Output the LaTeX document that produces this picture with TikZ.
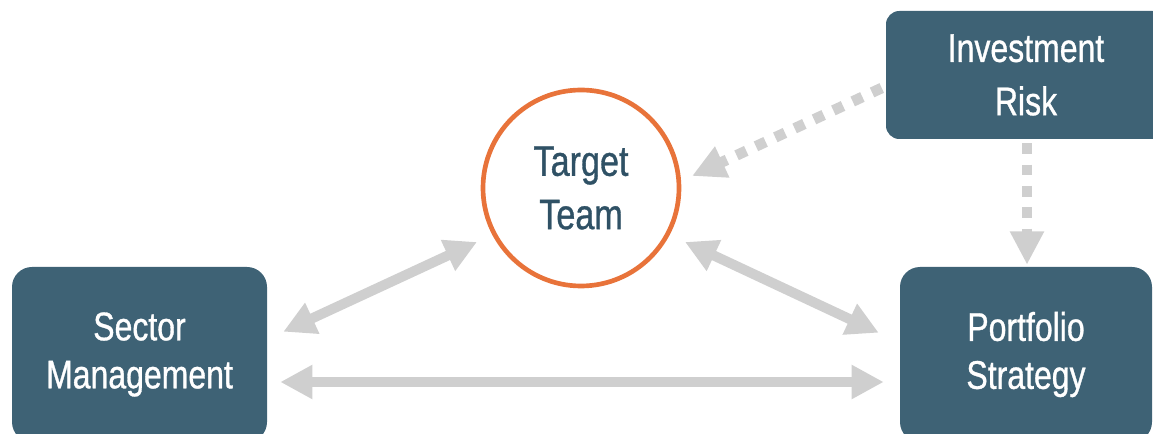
\documentclass[tikz,border=0pt]{standalone}
\usepackage{fontspec}
\setmainfont[FakeStretch=0.8,FakeBold=0.8]{Liberation Sans}
\usetikzlibrary{arrows.meta}
\definecolor{boxfill}{HTML}{3E6275}
\definecolor{tgttext}{HTML}{2F5165}
\definecolor{ring}{HTML}{E8733A}
\definecolor{arrgray}{HTML}{CFCFCF}
\begin{document}
\begin{tikzpicture}[x=0.75pt,y=-0.75pt,
  box/.style={rectangle, rounded corners=15pt, fill=boxfill, text=white,
    align=center, font=\fontsize{30}{36}\selectfont, inner sep=0pt},
  tgt/.style={circle, draw=ring, line width=3.5pt, fill=white, text=tgttext,
    align=center, font=\fontsize{32}{40}\selectfont, minimum size=147pt, inner sep=0pt},
  darrow/.style={draw=arrgray, line width=7.5pt,
    {Triangle[length=24pt,width=24pt]}-{Triangle[length=24pt,width=24pt]}},
  dotarrow/.style={draw=arrgray, line width=8pt, dash pattern=on 8pt off 8pt,
    -{Triangle[length=25pt,width=24pt]}}
]
\useasboundingbox (0,0) rectangle (1153,434);
\clip (0,0) rectangle (1153,434);

\node[box, minimum width=191.25pt, minimum height=131.25pt] (sector) at (139.5,354.5) {Sector\\Management};
\node[box, minimum width=189pt, minimum height=131.25pt] (portfolio) at (1026,354.5) {Portfolio\\Strategy};
\node[box, rounded corners=10pt, minimum width=210pt, minimum height=96pt,
  font=\fontsize{30}{40}\selectfont] (risk) at (1026,75) {Investment\\Risk};
\node[tgt] (target) at (581,188) {Target\\Team};

\draw[darrow] ([shift={(16,65)}]sector.north east) -- ([shift={(-104,54)}]target.center);
\draw[darrow] ([shift={(104,54)}]target.center) -- ([shift={(-21,66)}]portfolio.north west);
\draw[darrow] ([shift={(13,27.5)}]sector.east) -- ([shift={(-16,27.5)}]portfolio.west);
\draw[dotarrow] ([shift={(-4,13)}]risk.west) -- ([shift={(111,-12)}]target.center);
\draw[dotarrow] ([shift={(1,4)}]risk.south) -- ([shift={(1,-2)}]portfolio.north);
\end{tikzpicture}
\end{document}
